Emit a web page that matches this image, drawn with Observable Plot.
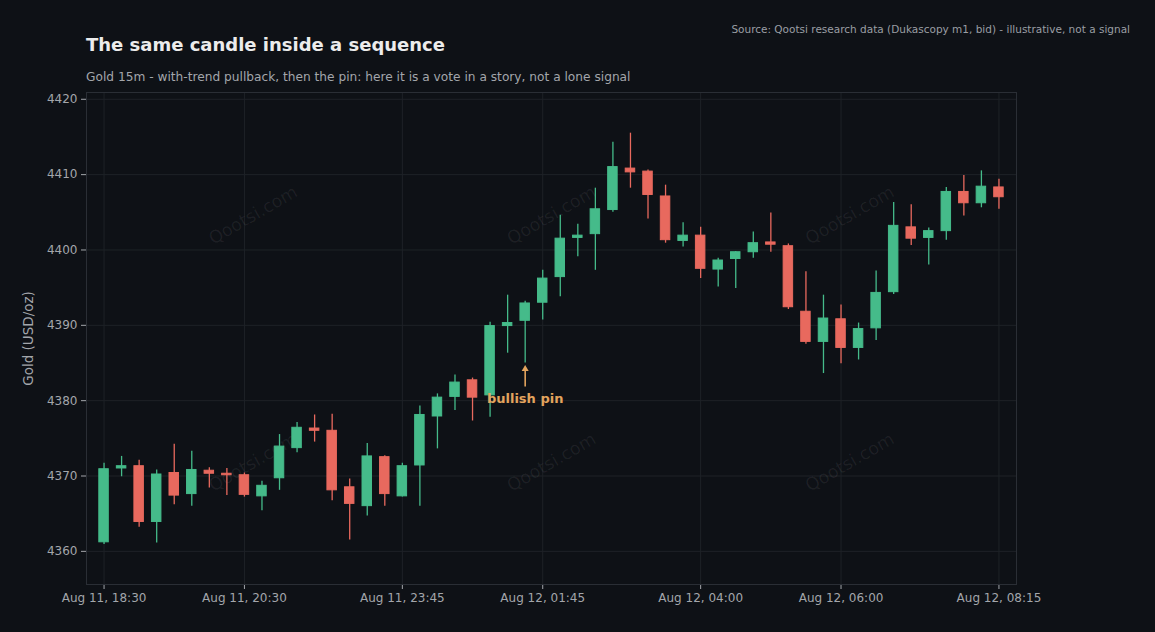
<!DOCTYPE html>
<html><head><meta charset="utf-8">
<script src="https://cdn.jsdelivr.net/npm/d3@7"></script>
<script src="https://cdn.jsdelivr.net/npm/@observablehq/plot@0.6"></script>
<style>
html,body{margin:0;padding:0;background:#0e1116;}
body{width:1155px;height:632px;overflow:hidden;font-family:"DejaVu Sans",sans-serif;}
#hdr{position:relative;height:88px;}
#title{position:absolute;left:86px;top:34px;font-size:18px;font-weight:bold;color:#ececec;white-space:nowrap;}
#sub{position:absolute;left:86px;top:70px;font-size:12.2px;color:#a3a6ab;white-space:nowrap;}
#src{position:absolute;right:25px;top:23px;font-size:10.5px;color:#9a9ea4;white-space:nowrap;}
#chart svg{display:block;}
#chart g[aria-label="y-axis label"] text{font-size:13.5px;}
</style></head>
<body>
<div id="hdr">
  <div id="title">The same candle inside a sequence</div>
  <div id="sub">Gold 15m - with-trend pullback, then the pin: here it is a vote in a story, not a lone signal</div>
  <div id="src">Source: Qootsi research data (Dukascopy m1, bid) - illustrative, not a signal</div>
</div>
<div id="chart"></div>
<script>
// OHLC per 15-minute bar (index 0 = Aug 11, 18:30)
const opens  = [4361.2,4371.0,4371.3,4363.9,4370.4,4367.6,4370.7,4370.3,4370.1,4367.3,4369.7,4373.7,4376.3,4376.0,4368.5,4366.0,4372.5,4367.3,4371.4,4377.9,4380.5,4382.7,4380.7,4389.9,4390.6,4393.0,4396.4,4401.6,4402.1,4405.3,4410.8,4410.4,4407.1,4401.2,4401.9,4397.4,4398.8,4399.7,4401.0,4400.5,4391.8,4387.8,4390.8,4387.0,4389.6,4394.4,4403.0,4401.6,4402.5,4407.7,4406.2,4408.3];
const highs  = [4371.7,4372.6,4372.1,4370.8,4374.2,4373.3,4371.1,4371.0,4370.4,4369.3,4375.5,4377.1,4378.1,4378.2,4369.6,4374.3,4372.7,4371.7,4379.3,4380.9,4383.4,4383.0,4390.4,4394.0,4393.2,4397.3,4404.6,4403.4,4408.2,4414.3,4415.5,4410.6,4408.6,4403.6,4403.0,4398.9,4399.8,4402.4,4404.9,4400.8,4397.1,4394.0,4392.7,4390.3,4397.2,4406.3,4406.0,4402.9,4408.3,4409.9,4410.5,4409.4];
const lows   = [4360.9,4369.9,4363.2,4361.1,4366.2,4366.0,4368.4,4367.4,4367.2,4365.4,4368.1,4373.1,4374.5,4366.7,4361.5,4364.7,4366.0,4367.2,4366.0,4373.6,4378.7,4377.3,4377.8,4386.3,4385.0,4390.7,4393.8,4399.1,4397.3,4405.0,4408.2,4404.1,4400.9,4400.4,4396.2,4395.1,4394.9,4398.9,4399.7,4392.1,4387.5,4383.6,4384.9,4385.4,4388.0,4394.1,4400.6,4398.0,4401.3,4404.5,4405.6,4405.4];
const closes = [4370.9,4371.3,4363.9,4370.2,4367.4,4370.8,4370.3,4370.1,4367.5,4368.7,4373.9,4376.4,4376.0,4368.1,4366.3,4372.6,4367.6,4371.3,4378.1,4380.4,4382.4,4380.4,4389.9,4390.3,4392.9,4396.2,4401.5,4401.9,4405.4,4411.0,4410.3,4407.3,4401.3,4401.9,4397.5,4398.6,4399.7,4400.9,4400.7,4392.4,4387.8,4390.9,4387.0,4389.5,4394.3,4403.2,4401.5,4402.5,4407.7,4406.2,4408.4,4407.0];

const tickIdx    = [0, 8, 17, 25, 34, 42, 51];
const tickLabels = ["Aug 11, 18:30","Aug 11, 20:30","Aug 11, 23:45","Aug 12, 01:45","Aug 12, 04:00","Aug 12, 06:00","Aug 12, 08:15"];
const yTicks     = [4360, 4370, 4380, 4390, 4400, 4410, 4420];

const pinIndex = 24;
const annotText = "bullish pin";
const annotArrow = [{x: pinIndex, y1: 4381.8, y2: 4384.0, tip: 4384.2}];
const annotLabel = [{x: pinIndex, y: 4380.3, text: annotText}];

const wmX = [8.5, 25.5, 42.5];
const wmY = [4404.6, 4371.8];
const wmText = "Qootsi.com";

const GREEN = "#45bb8a", RED = "#e8695e", ORANGE = "#e3a45e";

const data = opens.map((o, i) => ({i, o, h: highs[i], l: lows[i], c: closes[i], col: closes[i] >= o ? GREEN : RED}));
const watermarks = wmY.flatMap(y => wmX.map(x => ({x, y})));

const chart = Plot.plot({
  width: 1155, height: 544,
  marginTop: 4, marginBottom: 48, marginLeft: 86, marginRight: 139,
  style: {background: "#0e1116", color: "#a3a6ab", fontFamily: "DejaVu Sans, sans-serif", fontSize: "12px"},
  color: {type: "identity"},
  x: {domain: [-1, 52], ticks: tickIdx, tickFormat: d => tickLabels[tickIdx.indexOf(d)], label: null, tickSize: 5},
  y: {domain: [4355.6, 4420.9], ticks: yTicks, tickFormat: d => String(d), label: "Gold (USD/oz)", labelAnchor: "center", labelArrow: "none", labelOffset: 63, tickSize: 5},
  marks: [
    Plot.gridY(yTicks, {stroke: "#1e2227", strokeOpacity: 1}),
    Plot.gridX(tickIdx, {stroke: "#1e2227", strokeOpacity: 1}),
    Plot.text(watermarks, {x: "x", y: "y", text: () => wmText, rotate: -30, fontSize: 17.5, fill: "#ffffff", fillOpacity: 0.065}),
    Plot.frame({stroke: "#2a2e35"}),
    Plot.ruleX(data, {x: "i", y1: "l", y2: "h", stroke: "col", strokeWidth: 1.3}),
    Plot.rect(data, {x1: d => d.i - 0.27, x2: d => d.i + 0.27, y1: "o", y2: "c", fill: "col", stroke: "col", strokeWidth: 1}),
    Plot.ruleX(annotArrow, {x: "x", y1: "y1", y2: "y2", stroke: ORANGE, strokeWidth: 1.6}),
    Plot.dot(annotArrow, {x: "x", y: "tip", symbol: "triangle", r: 2.6, fill: ORANGE, stroke: "none"}),
    Plot.text(annotLabel, {x: "x", y: "y", text: "text", fill: ORANGE, fontSize: 13, fontWeight: "bold"})
  ]
});
document.getElementById("chart").appendChild(chart);
</script>
</body></html>
